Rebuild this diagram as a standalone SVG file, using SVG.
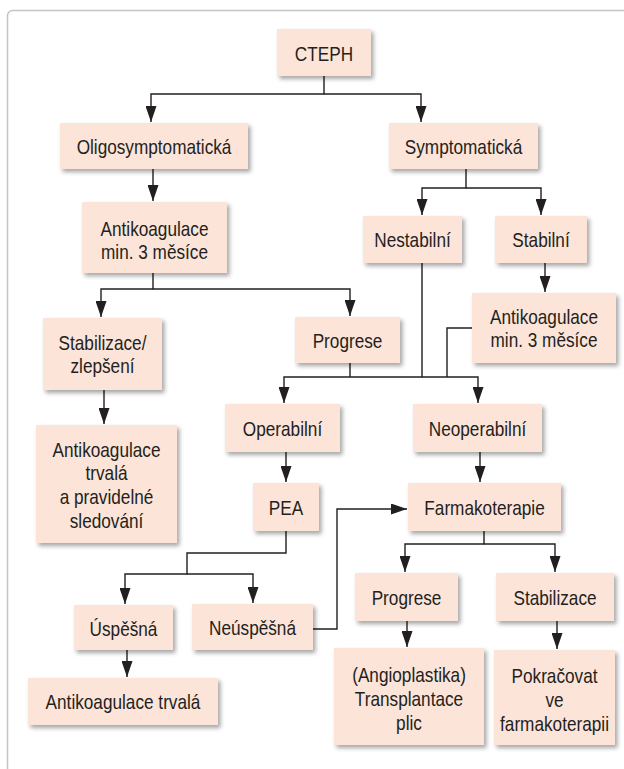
<svg xmlns="http://www.w3.org/2000/svg" width="624" height="769" viewBox="0 0 624 769">
<style>
.box{fill:#fce4d9;filter:url(#sh)}
.t{font-family:"Liberation Sans",Arial,sans-serif;font-size:20px;fill:#231f20;text-anchor:middle}
.c{fill:none;stroke:#231f20;stroke-width:1.4}
.a{marker-end:url(#ah)}
</style>
<defs>
<filter id="sh" x="-10%" y="-10%" width="130%" height="140%">
<feDropShadow dx="2.5" dy="3" stdDeviation="2" flood-color="#000" flood-opacity="0.35"/>
</filter>
<marker id="ah" markerUnits="userSpaceOnUse" markerWidth="16" markerHeight="11" refX="16" refY="5.5" orient="auto">
<path d="M0,0 L16,5.5 L0,11 z" fill="#231f20"/>
</marker>
</defs>
<rect x="0" y="0" width="624" height="769" fill="#fff"/>
<rect x="7.5" y="10.5" width="700" height="800" rx="5" fill="none" stroke="#c4c4c4" stroke-width="1.5"/>
<g id="connectors">
<path class="c a" d="M324,76 V94 H151 V122"/>
<path class="c a" d="M324,94 H421 V122"/>
<path class="c a" d="M153,169 V201"/>
<path class="c a" d="M466,169 V188 H422 V215"/>
<path class="c a" d="M466,188 H541 V215"/>
<path class="c a" d="M153,273 V289 H101 V317"/>
<path class="c a" d="M153,289 H350 V316"/>
<path class="c a" d="M545,263 V292"/>
<path class="c a" d="M422,263 V377 H284 V403"/>
<path class="c a" d="M422,377 H478 V403"/>
<path class="c" d="M472,328 H447 V377"/>
<path class="c" d="M350,363 V377"/>
<path class="c a" d="M104,390 V424"/>
<path class="c a" d="M286,452 V482"/>
<path class="c a" d="M480,452 V482"/>
<path class="c a" d="M286,531 V553 H187 V574 H125 V604"/>
<path class="c a" d="M187,574 H253 V603"/>
<path class="c a" d="M313,629 H337 V509 H407"/>
<path class="c a" d="M484,531 V544 H405 V572"/>
<path class="c a" d="M484,544 H555 V572"/>
<path class="c a" d="M127,650 V677"/>
<path class="c a" d="M407,621 V647"/>
<path class="c a" d="M557,621 V649"/>
</g>
<g id="cteph"><rect class="box" x="277" y="29" width="94" height="47"/><text class="t" transform="translate(324 60.5) scale(0.86 1)">CTEPH</text></g>
<g id="oligo"><rect class="box" x="60" y="123" width="188" height="46"/><text class="t" transform="translate(154 153.5) scale(0.86 1)">Oligosymptomatická</text></g>
<g id="sympt"><rect class="box" x="389" y="123" width="149" height="46"/><text class="t" transform="translate(463.5 153.5) scale(0.86 1)">Symptomatická</text></g>
<g id="antik1"><rect class="box" x="82" y="202" width="145" height="71"/><text class="t" transform="translate(154.5 235.5) scale(0.86 1)"><tspan x="0">Antikoagulace</tspan><tspan x="0" dy="23.5">min. 3 měsíce</tspan></text></g>
<g id="nestab"><rect class="box" x="363" y="216" width="99" height="47"/><text class="t" transform="translate(412.5 247) scale(0.86 1)">Nestabilní</text></g>
<g id="stab"><rect class="box" x="495" y="216" width="92" height="47"/><text class="t" transform="translate(541 247) scale(0.86 1)">Stabilní</text></g>
<g id="stabiliz"><rect class="box" x="43" y="318" width="119" height="72"/><text class="t" transform="translate(102.5 349.5) scale(0.86 1)"><tspan x="0">Stabilizace/</tspan><tspan x="0" dy="24">zlepšení</tspan></text></g>
<g id="progrese1"><rect class="box" x="295" y="317" width="105" height="46"/><text class="t" transform="translate(347.5 347.5) scale(0.86 1)">Progrese</text></g>
<g id="antik2"><rect class="box" x="472" y="293" width="144" height="70"/><text class="t" transform="translate(544 323.5) scale(0.86 1)"><tspan x="0">Antikoagulace</tspan><tspan x="0" dy="23.5">min. 3 měsíce</tspan></text></g>
<g id="operab"><rect class="box" x="225" y="404" width="115" height="48"/><text class="t" transform="translate(282.5 435.5) scale(0.86 1)">Operabilní</text></g>
<g id="neoper"><rect class="box" x="413" y="404" width="129" height="48"/><text class="t" transform="translate(477.5 435.5) scale(0.86 1)">Neoperabilní</text></g>
<g id="antiktrv4"><rect class="box" x="36" y="425" width="141" height="118"/><text class="t" transform="translate(106.5 456.5) scale(0.86 1)"><tspan x="0">Antikoagulace</tspan><tspan x="0" dy="24">trvalá</tspan><tspan x="0" dy="24">a pravidelné</tspan><tspan x="0" dy="24">sledování</tspan></text></g>
<g id="pea"><rect class="box" x="253" y="483" width="66" height="48"/><text class="t" transform="translate(286 514.5) scale(0.86 1)">PEA</text></g>
<g id="farm"><rect class="box" x="408" y="483" width="153" height="48"/><text class="t" transform="translate(484.5 514.5) scale(0.86 1)">Farmakoterapie</text></g>
<g id="uspesna"><rect class="box" x="74" y="605" width="99" height="45"/><text class="t" transform="translate(123.5 635.5) scale(0.86 1)">Úspěšná</text></g>
<g id="neuspesna"><rect class="box" x="192" y="604" width="121" height="46"/><text class="t" transform="translate(252.5 635) scale(0.86 1)">Neúspěšná</text></g>
<g id="progrese2"><rect class="box" x="355" y="573" width="103" height="48"/><text class="t" transform="translate(406.5 604.5) scale(0.86 1)">Progrese</text></g>
<g id="stabilizace2"><rect class="box" x="496" y="573" width="118" height="48"/><text class="t" transform="translate(555 604.5) scale(0.86 1)">Stabilizace</text></g>
<g id="antiktrv"><rect class="box" x="28" y="678" width="190" height="47"/><text class="t" transform="translate(123 709) scale(0.86 1)">Antikoagulace trvalá</text></g>
<g id="angio"><rect class="box" x="334" y="648" width="150" height="97"/><text class="t" transform="translate(409 682) scale(0.86 1)"><tspan x="0">(Angioplastika)</tspan><tspan x="0" dy="24">Transplantace</tspan><tspan x="0" dy="24">plic</tspan></text></g>
<g id="pokr"><rect class="box" x="494" y="650" width="121" height="95"/><text class="t" transform="translate(554.5 683) scale(0.86 1)"><tspan x="0">Pokračovat</tspan><tspan x="0" dy="24">ve</tspan><tspan x="0" dy="24">farmakoterapii</tspan></text></g>
</svg>
